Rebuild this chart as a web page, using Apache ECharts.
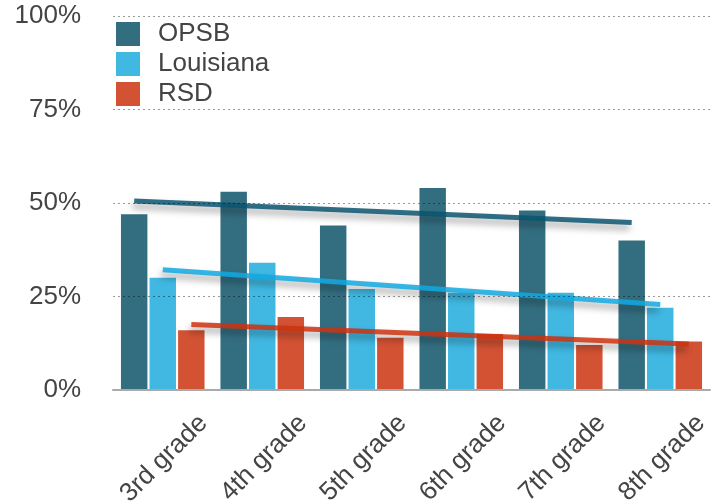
<!DOCTYPE html>
<html lang="en">
<head>
  <meta charset="UTF-8">
  <title>Proficiency by grade</title>
  <script src="https://cdn.jsdelivr.net/npm/echarts@6/dist/echarts.min.js"></script>
  <style>
    html, body { margin: 0; padding: 0; background: #fff; }
    #chart { width: 717px; height: 501px; }
  </style>
</head>
<body>
<div id="chart"></div>
<script>
  // data
  const grades = ['3rd grade', '4th grade', '5th grade', '6th grade', '7th grade', '8th grade'];
  const opsb = [47, 53, 44, 54, 48, 40];
  const louisiana = [30, 34, 27, 26, 26, 22];
  const rsd = [16, 19.5, 14, 15, 12, 13];
  const yTicks = [0, 25, 50, 75, 100];

  const names = ['OPSB', 'Louisiana', 'RSD'];
  const barColors = ['#336e80', '#40b8e2', '#d35233'];
  const lineColors = ['#0a5570', '#12a9e0', '#cc3311'];

  // bar layout shares, used to put trend lines on bar centres
  const catGap = 0.16, barGap = 0.08;
  const barShare = (1 - catGap) / (3 + 2 * barGap);
  const step = barShare * (1 + barGap);

  // least squares line over the grade index
  function trend(vals) {
    const n = vals.length;
    const mx = (n - 1) / 2;
    const my = vals.reduce((a, b) => a + b, 0) / n;
    let sxy = 0, sxx = 0;
    vals.forEach((v, i) => { sxy += (i - mx) * (v - my); sxx += (i - mx) * (i - mx); });
    const k = sxy / sxx;
    return [my - k * mx, my + k * (n - 1 - mx)];
  }

  const font = 'Liberation Sans, Helvetica, Arial, sans-serif';
  const chart = echarts.init(document.getElementById('chart'));

  const series = [];
  [opsb, louisiana, rsd].forEach((vals, s) => {
    series.push({
      name: names[s],
      type: 'bar',
      xAxisIndex: 0,
      data: vals,
      barGap: (barGap * 100) + '%',
      barCategoryGap: (catGap * 100) + '%',
      itemStyle: { color: barColors[s] },
      z: 2
    });
  });
  [opsb, louisiana, rsd].forEach((vals, s) => {
    const t = trend(vals);
    const off = (s - 1) * step;
    series.push({
      name: names[s] + ' trend',
      type: 'line',
      xAxisIndex: 2,
      symbol: 'none',
      data: [[0 + off, t[0]], [vals.length - 1 + off, t[1]]],
      lineStyle: {
        color: lineColors[s],
        width: 5,
        opacity: 0.85,
        shadowColor: 'rgba(0,0,0,0.4)',
        shadowBlur: 7,
        shadowOffsetX: -2,
        shadowOffsetY: 5
      },
      z: 3
    });
  });

  chart.setOption({
    animation: false,
    textStyle: { fontFamily: font },
    grid: { left: 113, right: 7, top: 16, bottom: 111, containLabel: false, outerBoundsMode: 'none' },
    legend: {
      data: names,
      orient: 'vertical',
      left: 116,
      top: 21,
      padding: 0,
      icon: 'rect',
      itemWidth: 24,
      itemHeight: 24,
      itemGap: 4,
      textStyle: { fontSize: 26, color: '#444', fontFamily: font, padding: [0, 0, 0, 13], lineHeight: 24 }
    },
    xAxis: [
      {
        type: 'category',
        data: grades,
        axisTick: { show: false },
        axisLabel: { show: false },
        axisLine: { lineStyle: { color: '#aaa', width: 2 } },
        z: 6
      },
      {
        type: 'category',
        data: [''].concat(grades),
        boundaryGap: false,
        position: 'bottom',
        axisLine: { show: false },
        axisTick: { show: false },
        axisLabel: {
          interval: 0, rotate: 45, margin: 20, padding: [0, 13, 0, 0],
          fontSize: 26, color: '#444', fontFamily: font
        }
      },
      {
        type: 'value',
        min: -0.5,
        max: grades.length - 0.5,
        show: false
      }
    ],
    yAxis: {
      type: 'value',
      min: yTicks[0],
      max: yTicks[yTicks.length - 1],
      interval: yTicks[1] - yTicks[0],
      z: 5,
      axisLabel: { formatter: '{value}%', fontSize: 26, color: '#444', margin: 32, fontFamily: font },
      axisLine: { show: false },
      axisTick: { show: false },
      splitLine: { lineStyle: { color: 'rgba(0,0,0,0.4)', width: 1, type: [2, 3] } }
    },
    series: series
  });
</script>
</body>
</html>
